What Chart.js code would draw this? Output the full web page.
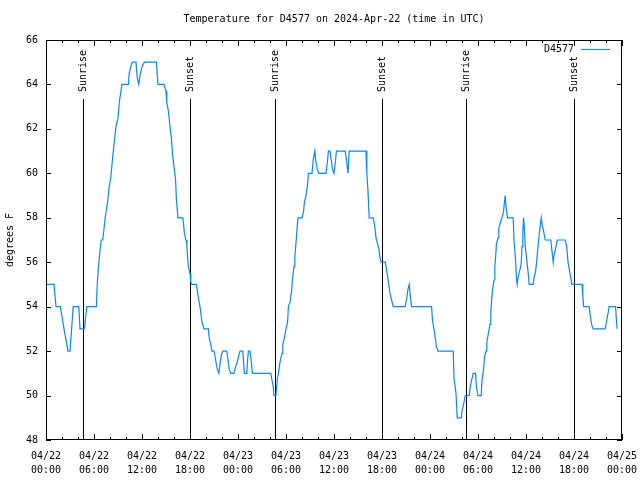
<!DOCTYPE html>
<html lang="en">
  <head>
    <meta charset="UTF-8" />
    <title>D4577 Temperature</title>
    <script src="https://cdn.jsdelivr.net/npm/chart.js"></script>
    <style>
      body { margin: 0; background: #fff; }
    </style>
  </head>
  <body>
    <canvas id="chart" width="640" height="480"></canvas>

    <script>
      // hours since 04/22 00:00 UTC
      const hours = [
        0, 1.0, 1.25, 1.8, 2.25, 2.75, 3.0, 3.2, 3.4, 4.1, 4.25, 4.8, 5.1, 6.3, 6.4, 6.6, 6.9, 7.1, 7.4, 7.7,
        7.9, 8.1, 8.3, 8.5, 8.75, 9.0, 9.2, 9.5, 10.3, 10.4, 10.6, 10.8, 11.25, 11.4, 11.6, 11.75, 12.0, 12.3, 13.8, 14.0,
        14.75, 15.0, 15.1, 15.3, 15.5, 15.7, 15.8, 16.0, 16.2, 16.3, 16.5, 17.1, 17.2, 17.3, 17.5, 17.6, 17.7, 17.8, 18.0, 18.1,
        18.25, 18.8, 19.0, 19.25, 19.4, 19.5, 19.75, 20.3, 20.4, 20.6, 20.75, 21.0, 21.2, 21.4, 21.6, 21.75, 21.9, 22.1, 22.6, 22.75,
        22.9, 23.1, 23.5, 23.7, 23.9, 24.1, 24.25, 24.6, 24.7, 24.8, 25.1, 25.2, 25.3, 25.5, 25.7, 25.8, 28.1, 28.25, 28.4, 28.5,
        28.75, 28.9, 29.1, 29.25, 29.5, 29.6, 29.8, 30.0, 30.2, 30.3, 30.5, 30.7, 30.8, 31.0, 31.1, 31.3, 31.4, 31.5, 32.0, 32.2,
        32.3, 32.5, 32.7, 32.8, 33.25, 33.4, 33.6, 33.7, 33.9, 34.1, 35.0, 35.2, 35.3, 35.5, 35.7, 35.8, 36.0, 36.2, 36.3, 37.4,
        37.6, 37.75, 37.9, 40.0, 40.1, 40.25, 40.4, 40.9, 41.1, 41.25, 41.4, 41.6, 41.75, 41.9, 42.4, 42.6, 42.8, 43.0, 43.2, 43.4,
        44.9, 45.1, 45.25, 45.4, 45.5, 45.7, 48.2, 48.3, 48.5, 48.7, 48.8, 49.0, 50.9, 51.0, 51.25, 51.4, 51.9, 52.0, 52.2, 52.4,
        52.9, 53.0, 53.2, 53.4, 53.7, 53.8, 54.0, 54.4, 54.5, 54.7, 54.8, 55.0, 55.1, 55.3, 55.5, 55.6, 55.7, 55.8, 56.0, 56.1,
        56.2, 56.3, 56.5, 56.6, 56.8, 57.0, 57.2, 57.3, 57.4, 57.5, 57.7, 58.4, 58.5, 58.7, 58.8, 58.9, 59.0, 59.2, 59.4, 59.5,
        59.6, 59.7, 59.8, 59.9, 60.1, 60.25, 60.4, 60.9, 61.0, 61.2, 61.3, 61.5, 61.7, 61.9, 62.0, 62.2, 62.4, 63.1, 63.25, 63.4,
        63.5, 63.7, 63.9, 64.9, 65.1, 65.25, 65.4, 65.6, 65.75, 67.0, 67.1, 67.2, 67.9, 68.0, 68.2, 68.4, 69.9, 70.1, 70.25, 70.4,
        71.2, 71.3, 71.4,
      ];
      const temps = [
        55, 55, 54, 54, 53, 52, 52, 53, 54, 54, 53, 53, 54, 54, 55, 56, 57, 57, 58, 58.7,
        59.4, 59.8, 60.6, 61.3, 62.1, 62.5, 63.3, 64, 64, 64.5, 64.8, 65, 65, 64.3, 64, 64.4, 64.8, 65, 65, 64,
        64, 63.7, 63.2, 62.8, 62.1, 61.5, 60.9, 60.3, 59.7, 58.8, 58, 58, 57.7, 57.3, 57, 56.8, 56.2, 55.8, 55.5, 55.1,
        55, 55, 54.5, 54, 53.6, 53.3, 53, 53, 52.6, 52.3, 52, 52, 51.6, 51.2, 51, 51.4, 51.8, 52, 52, 51.6,
        51.2, 51, 51, 51.3, 51.5, 51.8, 52, 52, 51.5, 51, 51, 51.6, 52, 52, 51.4, 51, 51, 50.7, 50.4, 50,
        50, 50.7, 51.1, 51.5, 51.9, 52.3, 52.6, 53, 53.3, 54, 54.2, 54.7, 55.2, 55.8, 56.2, 57.1, 57.6, 58, 58, 58.3,
        58.7, 59, 59.5, 60, 60, 60.6, 61, 60.6, 60.2, 60, 60, 60.6, 61, 61, 60.5, 60.2, 60, 60.6, 61, 61,
        60.5, 60, 61, 61, 60, 59.2, 58, 58, 57.6, 57.1, 56.9, 56.6, 56.2, 56, 56, 55.6, 55.1, 54.6, 54.3, 54,
        54, 54.4, 54.8, 55, 54.6, 54, 54, 53.4, 53, 52.5, 52.2, 52, 52, 50.8, 50.1, 49, 49, 49.3, 49.6, 50,
        50, 50.3, 50.7, 51, 51, 50.4, 50, 50, 50.7, 51.2, 51.7, 52, 52.4, 52.8, 53.2, 53.7, 54.3, 54.7, 55.2, 55.8,
        56.2, 56.8, 57.1, 57.5, 57.8, 58, 58.3, 58.7, 59, 58.5, 58, 58, 57, 56.1, 55.3, 55, 55.3, 55.6, 55.9, 56.7,
        57.4, 58, 57.5, 56.7, 56.1, 55.6, 55, 55, 55.3, 55.6, 55.9, 56.7, 57.4, 58, 57.7, 57.4, 57, 57, 56.5, 56,
        56.3, 56.6, 57, 57, 56.7, 56, 55.7, 55.3, 55, 55, 54.5, 54, 54, 53.7, 53.2, 53, 53, 53.4, 53.7, 54,
        54, 53.4, 53,
      ];

      const sunTimes = [4.66, 18.04, 28.66, 42.04, 52.54, 66.04];
      const sunLabels = ["Sunrise", "Sunset", "Sunrise", "Sunset", "Sunrise", "Sunset"];

      const xTickDays = ["04/22", "04/22", "04/22", "04/22", "04/23", "04/23", "04/23", "04/23", "04/24", "04/24", "04/24", "04/24", "04/25"];
      const xTickTimes = ["00:00", "06:00", "12:00", "18:00", "00:00", "06:00", "12:00", "18:00", "00:00", "06:00", "12:00", "18:00", "00:00"];

      const titleText = "Temperature for D4577 on 2024-Apr-22 (time in UTC)";
      const yTitle = "degrees F";
      const seriesName = "D4577";
      const lineColor = "#0a86ff";
      const FONT = "10px 'DejaVu Sans Mono', monospace";

      Chart.defaults.font.family = "'DejaVu Sans Mono', monospace";
      Chart.defaults.font.size = 10;
      Chart.defaults.color = "#000";

      // gnuplot look: box border, inward ticks, sun lines, title, legend
      const gnuplotFrame = {
        id: "gnuplotFrame",
        beforeDatasetsDraw(chart) {
          const { ctx, chartArea, scales } = chart;
          ctx.save();
          ctx.strokeStyle = "#000";
          ctx.lineWidth = 1;
          ctx.font = FONT;
          ctx.fillStyle = "#000";
          sunTimes.forEach((t, i) => {
            const x = Math.round(scales.x.getPixelForValue(t)) + 0.5;
            ctx.beginPath();
            ctx.moveTo(x, 99);
            ctx.lineTo(x, chartArea.bottom);
            ctx.stroke();
            ctx.save();
            ctx.translate(x, 92);
            ctx.rotate(-Math.PI / 2);
            ctx.textAlign = "left";
            ctx.textBaseline = "middle";
            ctx.fillText(sunLabels[i], 0, 0);
            ctx.restore();
          });
          ctx.restore();
        },
        afterDraw(chart) {
          const { ctx, chartArea, scales } = chart;
          const { left, right, top, bottom } = chartArea;
          ctx.save();
          ctx.strokeStyle = "#000";
          ctx.lineWidth = 1;
          ctx.strokeRect(left + 0.5, top + 0.5, right - left - 1, bottom - top - 1);

          ctx.beginPath();
          for (let h = 0; h <= 72; h += 2) {
            const x = Math.round(scales.x.getPixelForValue(h)) + 0.5;
            const len = h % 6 === 0 ? 6 : 3;
            ctx.moveTo(x, bottom);
            ctx.lineTo(x, bottom - len);
            ctx.moveTo(x, top);
            ctx.lineTo(x, top + len);
          }
          for (let v = 48; v <= 66; v += 2) {
            const y = Math.round(scales.y.getPixelForValue(v)) + 0.5;
            ctx.moveTo(left, y);
            ctx.lineTo(left + 5, y);
            ctx.moveTo(right, y);
            ctx.lineTo(right - 5, y);
          }
          ctx.stroke();

          ctx.font = FONT;
          ctx.fillStyle = "#000";
          ctx.textAlign = "center";
          ctx.textBaseline = "middle";
          ctx.fillText(titleText, (left + right) / 2, 19);

          ctx.save();
          ctx.translate(10, (top + bottom) / 2);
          ctx.rotate(-Math.PI / 2);
          ctx.fillText(yTitle, 0, 0);
          ctx.restore();

          ctx.textAlign = "right";
          ctx.fillText(seriesName, 574, 49);
          ctx.strokeStyle = lineColor;
          ctx.beginPath();
          ctx.moveTo(581, 49.5);
          ctx.lineTo(610, 49.5);
          ctx.stroke();
          ctx.restore();
        },
      };

      new Chart(document.getElementById("chart"), {
        type: "line",
        data: {
          datasets: [
            {
              label: seriesName,
              data: hours.map((h, i) => ({ x: h, y: temps[i] })),
              borderColor: lineColor,
              borderWidth: 1.2,
              pointRadius: 0,
              tension: 0,
              fill: false,
            },
          ],
        },
        options: {
          responsive: false,
          animation: false,
          layout: { padding: { left: 0, right: 18, top: 40, bottom: 0 } },
          plugins: {
            legend: { display: false },
            title: { display: false },
            tooltip: { enabled: false },
          },
          scales: {
            x: {
              type: "linear",
              min: 0,
              max: 72,
              grid: { display: false, drawTicks: false },
              border: { display: false },
              afterFit: (s) => {
                s.height = 40;
                s.paddingLeft = 0;
                s.paddingRight = 0;
              },
              ticks: {
                stepSize: 6,
                maxRotation: 0,
                autoSkip: false,
                padding: 9,
                font: { lineHeight: 1.4 },
                callback: (v, i) => [xTickDays[i], xTickTimes[i]],
              },
            },
            y: {
              min: 48,
              max: 66,
              grid: { display: false, drawTicks: false },
              border: { display: false },
              afterFit: (s) => {
                s.width = 46;
                s.paddingTop = 0;
                s.paddingBottom = 0;
              },
              ticks: { stepSize: 2, padding: 8 },
            },
          },
        },
        plugins: [gnuplotFrame],
      });
    </script>
  </body>
</html>
